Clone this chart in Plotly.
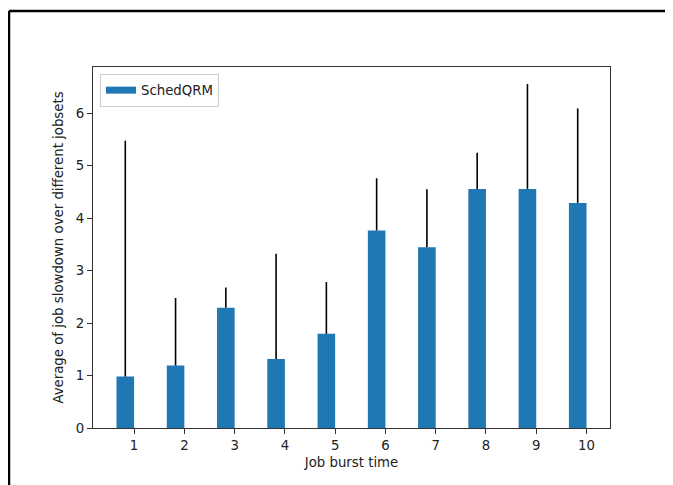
import plotly.graph_objects as go

burst_times = [1, 2, 3, 4, 5, 6, 7, 8, 9, 10]
avg_slowdown = [0.98, 1.19, 2.29, 1.315, 1.795, 3.765, 3.447, 4.556, 4.556, 4.29]
err_top = [5.476, 2.477, 2.68, 3.32, 2.78, 4.76, 4.55, 5.246, 6.556, 6.09]
err_upper = [t - v for t, v in zip(err_top, avg_slowdown)]
series_name = "SchedQRM"

OFF = 8  # page body margin
W, H = 673 - OFF, 485 - OFF
L, R, T, B = 93 - OFF, 610 - OFF, 67 - OFF, 428 - OFF

def px_x(p):
    return (p - OFF - L) / (R - L)

def px_y(p):
    return (B - (p - OFF)) / (B - T)

bar_w = 0.35
fig = go.Figure()
fig.add_trace(go.Bar(
    x=burst_times, y=avg_slowdown, name=series_name,
    width=bar_w, offset=-bar_w,
    marker=dict(color="#1f77b4", line=dict(width=0)),
    showlegend=False,
))
fig.add_trace(go.Scatter(
    x=[b - bar_w / 2 for b in burst_times], y=avg_slowdown,
    mode="markers", marker=dict(size=0.1, opacity=0),
    error_y=dict(type="data", symmetric=False, array=err_upper,
                 arrayminus=[0] * len(burst_times), width=0,
                 color="black", thickness=1.6),
    showlegend=False, hoverinfo="skip",
))
fig.add_trace(go.Scatter(
    x=[None], y=[None], mode="lines", name=series_name,
    line=dict(color="#1f77b4", width=7), showlegend=True,
))

font = dict(family="DejaVu Sans", size=13.3, color="#222222")
fig.update_layout(
    width=W, height=H,
    margin=dict(l=L, r=W - R, t=T, b=H - B, pad=0),
    paper_bgcolor="white", plot_bgcolor="white",
    font=font,
    xaxis=dict(range=[0.1825, 10.4675], tickmode="array", tickvals=burst_times,
               ticktext=[str(b) for b in burst_times],
               showgrid=False, zeroline=False, showline=True, mirror=True,
               linecolor="#333333", linewidth=1, ticks="outside", ticklen=5,
               tickcolor="#333333", tickfont=font,
               title=dict(text="Job burst time", font=font, standoff=5)),
    yaxis=dict(range=[0, 6.88], tickmode="array", tickvals=[0, 1, 2, 3, 4, 5, 6],
               showgrid=False, zeroline=False, showline=True, mirror=True,
               linecolor="#333333", linewidth=1, ticks="outside", ticklen=5,
               tickcolor="#333333", tickfont=font,
               title=dict(text="Average of job slowdown over different jobsets",
                          font=font, standoff=9)),
    legend=dict(x=px_x(100), y=px_y(74), xanchor="left", yanchor="top",
                bgcolor="rgba(255,255,255,0.8)", bordercolor="#cccccc",
                borderwidth=1, font=font, itemwidth=30),
    shapes=[
        dict(type="line", xref="paper", yref="paper",
             x0=px_x(9), x1=px_x(680), y0=px_y(11), y1=px_y(11),
             line=dict(color="black", width=2.5)),
        dict(type="line", xref="paper", yref="paper",
             x0=px_x(9), x1=px_x(9), y0=px_y(11), y1=px_y(495),
             line=dict(color="black", width=2.5)),
    ],
)

fig.write_html("out.html")
